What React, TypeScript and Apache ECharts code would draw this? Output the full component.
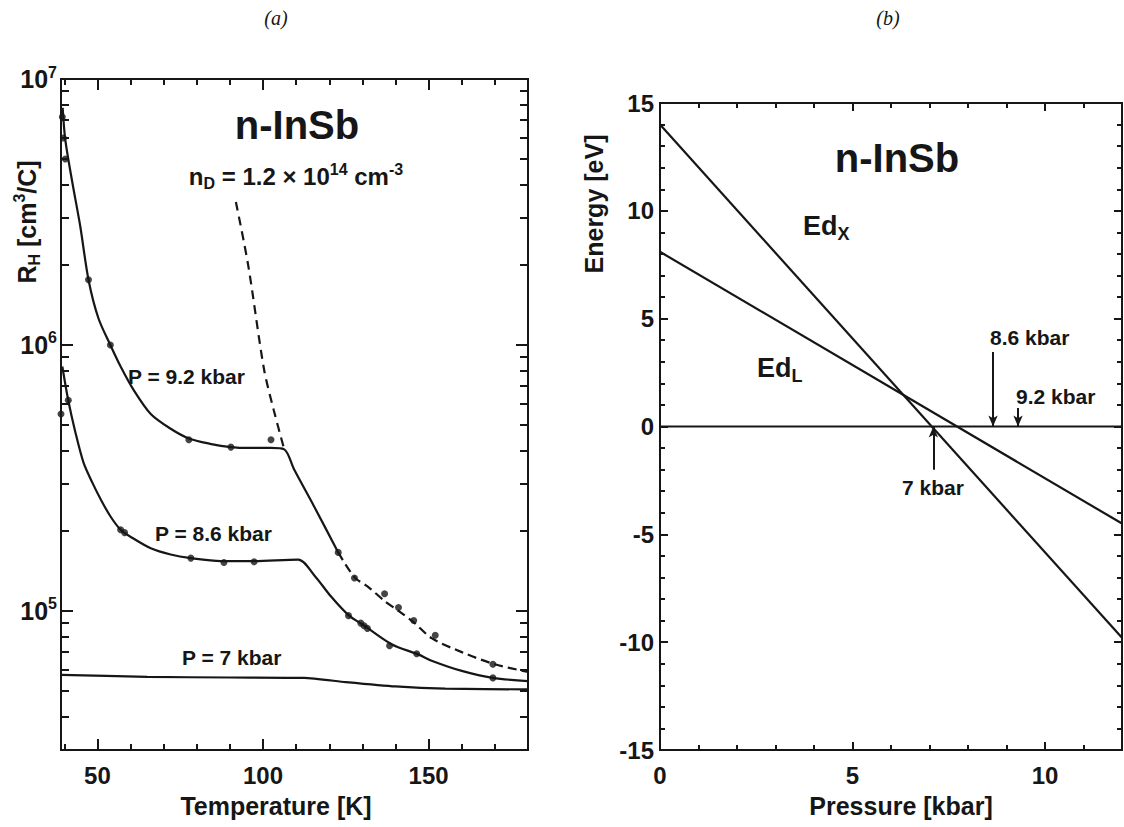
import React, { useEffect, useRef } from 'react';
import * as echarts from 'echarts';

// ---------- Panel (a): Hall coefficient vs temperature ----------
const temp92 = [39.5, 40.3, 42.4, 44.8, 47.3, 50.3, 53.9, 57, 61, 66.1, 72, 77.6, 84, 90.3, 96, 102.4, 106.4, 109.4, 115.5, 122.7];
const rh92 = [7.8e6, 5.9e6, 4.1e6, 2.8e6, 1.76e6, 1.26e6, 1.0e6, 8.3e5, 6.75e5, 5.5e5, 4.85e5, 4.45e5, 4.25e5, 4.13e5, 4.1e5, 4.1e5, 4.05e5, 3.4e5, 2.46e5, 1.66e5];
const temp92Tail = [122.7, 127.6, 131.8, 136.7, 140.9, 145.5, 150.9, 160, 170, 180];
const rh92Tail = [1.66e5, 1.34e5, 1.23e5, 1.09e5, 1.0e5, 9.06e4, 7.9e4, 7.0e4, 6.3e4, 5.9e4];
const tempDash = [91.8, 95.5, 100.3, 103.3, 106.4];
const rhDash = [3.45e6, 2.0e6, 8.1e5, 5.65e5, 4.05e5];
const temp86 = [39.4, 41.2, 43.3, 45.8, 48.5, 50.9, 53.9, 57, 60.6, 66.1, 72.1, 78.2, 87.3, 96.4, 110.6, 115.5, 120.6, 125.8, 130.6, 138.8, 147, 150.9, 160, 169.4, 180];
const rh86 = [8.3e5, 6.18e5, 4.72e5, 3.61e5, 3.03e5, 2.64e5, 2.27e5, 2.02e5, 1.88e5, 1.72e5, 1.63e5, 1.58e5, 1.54e5, 1.54e5, 1.56e5, 1.36e5, 1.13e5, 9.65e4, 8.8e4, 7.5e4, 6.85e4, 6.5e4, 5.95e4, 5.6e4, 5.45e4];
const temp7 = [39, 65, 90, 112.4, 125, 140, 155, 180];
const rh7 = [5.75e4, 5.65e4, 5.62e4, 5.6e4, 5.4e4, 5.2e4, 5.1e4, 5.07e4];
const mark92T = [39.4, 39.7, 40.3, 47.3, 53.9, 77.6, 90.3, 102.4, 122.7, 127.6, 136.7, 140.9, 145.5, 152, 169.4];
const mark92R = [7.2e6, 6.0e6, 5.0e6, 1.76e6, 1.0e6, 4.4e5, 4.13e5, 4.4e5, 1.66e5, 1.33e5, 1.16e5, 1.03e5, 9.2e4, 8.1e4, 6.3e4];
const mark86T = [39, 41.2, 57, 58.2, 78.2, 88.2, 97.3, 125.8, 129.5, 130.5, 131.5, 138.2, 146.4, 169.4];
const mark86R = [5.5e5, 6.2e5, 2.02e5, 1.97e5, 1.58e5, 1.52e5, 1.53e5, 9.6e4, 9.0e4, 8.8e4, 8.6e4, 7.4e4, 6.9e4, 5.6e4];

const tempMajor = [50, 100, 150];
const tempMinor = [40, 60, 70, 80, 90, 110, 120, 130, 140, 160, 170];
const rhMajor = [1e5, 1e6, 1e7];
const rhMinor = [4e4, 5e4, 6e4, 7e4, 8e4, 9e4, 2e5, 3e5, 4e5, 5e5, 6e5, 7e5, 8e5, 9e5, 2e6, 3e6, 4e6, 5e6, 6e6, 7e6, 8e6, 9e6];

// ---------- Panel (b): deformation potential energies vs pressure ----------
const pressure = [0, 12];
const edX = [14.0, -9.8];
const edL = [8.1, -4.5];
const zeroLine = [0, 0];
const arrowP = [8.65, 9.3, 7.1];
const arrowFrom = [3.45, 0.86, -2.0];
const pMajor = [0, 5, 10];
const pMinor = [1, 2, 3, 4, 6, 7, 8, 9, 11];
const eMajor = [-15, -10, -5, 0, 5, 10, 15];
const eMinor = [-14, -13, -12, -11, -9, -8, -7, -6, -4, -3, -2, -1, 1, 2, 3, 4, 6, 7, 8, 9, 11, 12, 13, 14];

const FONT = '"Liberation Sans", Arial, Helvetica, sans-serif';
const SERIF = '"Liberation Serif", "Times New Roman", serif';
const INK = '#161616';

const zip = (a: number[], b: number[]) => a.map((v, i) => [v, b[i]]);

function mkAxis(o: {
  grid: number; position: string; type?: string; min: number; max: number;
  ticks: number[]; len: number; labels?: number[]; formatter?: any; rich?: any; labelMargin?: number;
}) {
  const ax: any = {
    type: o.type || 'value',
    gridIndex: o.grid,
    position: o.position,
    min: o.min,
    max: o.max,
    axisLine: { show: true, onZero: false, lineStyle: { color: INK, width: 2 } },
    axisTick: { show: true, inside: true, length: o.len, customValues: o.ticks, lineStyle: { color: INK, width: 2 } },
    minorTick: { show: false },
    splitLine: { show: false },
    axisLabel: { show: false },
  };
  if (o.type === 'log') ax.logBase = 10;
  if (o.labels) {
    ax.axisLabel = {
      show: true,
      customValues: o.labels,
      color: INK,
      fontFamily: FONT,
      fontWeight: 'bold',
      fontSize: 24,
      margin: o.labelMargin ?? 8,
      formatter: o.formatter,
      rich: o.rich,
    };
  }
  return ax;
}

const logFormatter = (v: number) => `{b|10}{s|${Math.round(Math.log10(v))}}`;
const logRich = {
  b: { fontFamily: FONT, fontWeight: 'bold', fontSize: 25, color: INK, lineHeight: 30 },
  s: { fontFamily: FONT, fontWeight: 'bold', fontSize: 16, color: INK, verticalAlign: 'top', lineHeight: 16 },
};

function txt(x: number, y: number, text: string, size: number, extra: any = {}) {
  const { align, rich, family, weight, fontStyle, ...rest } = extra;
  return {
    type: 'text', x, y, silent: true,
    ...rest,
    style: {
      text,
      fill: INK,
      fontFamily: family || FONT,
      fontWeight: weight || 'bold',
      fontStyle: fontStyle || 'normal',
      fontSize: size,
      align: align || 'center',
      textAlign: align || 'center',
      verticalAlign: 'middle',
      textVerticalAlign: 'middle',
      rich,
    },
  };
}

const subRich = (size: number) => ({
  b: { fontFamily: FONT, fontWeight: 'bold', fontSize: size, fill: INK, lineHeight: size + 6 },
  sub: { fontFamily: FONT, fontWeight: 'bold', fontSize: Math.round(size * 0.65), fill: INK, verticalAlign: 'bottom', lineHeight: Math.round(size * 0.65) },
  sup: { fontFamily: FONT, fontWeight: 'bold', fontSize: Math.round(size * 0.65), fill: INK, verticalAlign: 'top', lineHeight: Math.round(size * 0.65) },
});

export default function App() {
  const ref = useRef<HTMLDivElement>(null);
  useEffect(() => {
    if (!ref.current) return;
    const chart = echarts.init(ref.current, undefined, { renderer: 'svg' });
    const lineStyle = { color: INK, width: 2.2 };
    const option: any = {
      animation: false,
      backgroundColor: '#ffffff',
      grid: [
        { left: 61, top: 79, width: 467, height: 671 },
        { left: 660, top: 103, width: 462, height: 647 },
      ],
      xAxis: [
        mkAxis({ grid: 0, position: 'bottom', min: 39, max: 180, ticks: tempMajor, len: 11, labels: tempMajor, labelMargin: 13 }),
        mkAxis({ grid: 0, position: 'bottom', min: 39, max: 180, ticks: tempMinor, len: 6 }),
        mkAxis({ grid: 0, position: 'top', min: 39, max: 180, ticks: tempMajor, len: 11 }),
        mkAxis({ grid: 0, position: 'top', min: 39, max: 180, ticks: tempMinor, len: 6 }),
        mkAxis({ grid: 1, position: 'bottom', min: 0, max: 12, ticks: pMajor, len: 8, labels: pMajor, labelMargin: 13 }),
        mkAxis({ grid: 1, position: 'bottom', min: 0, max: 12, ticks: pMinor, len: 5 }),
        mkAxis({ grid: 1, position: 'top', min: 0, max: 12, ticks: pMajor, len: 8 }),
        mkAxis({ grid: 1, position: 'top', min: 0, max: 12, ticks: pMinor, len: 5 }),
      ],
      yAxis: [
        mkAxis({ grid: 0, position: 'left', type: 'log', min: 3e4, max: 1e7, ticks: rhMajor, len: 12, labels: rhMajor, formatter: logFormatter, rich: logRich, labelMargin: 4 }),
        mkAxis({ grid: 0, position: 'left', type: 'log', min: 3e4, max: 1e7, ticks: rhMinor, len: 8 }),
        mkAxis({ grid: 0, position: 'right', type: 'log', min: 3e4, max: 1e7, ticks: rhMajor, len: 12 }),
        mkAxis({ grid: 0, position: 'right', type: 'log', min: 3e4, max: 1e7, ticks: rhMinor, len: 8 }),
        mkAxis({ grid: 1, position: 'left', min: -15, max: 15, ticks: eMajor, len: 8, labels: eMajor, labelMargin: 6 }),
        mkAxis({ grid: 1, position: 'left', min: -15, max: 15, ticks: eMinor, len: 5 }),
        mkAxis({ grid: 1, position: 'right', min: -15, max: 15, ticks: eMajor, len: 8 }),
        mkAxis({ grid: 1, position: 'right', min: -15, max: 15, ticks: eMinor, len: 5 }),
      ],
      series: [
        { type: 'line', name: 'P = 9.2 kbar', xAxisIndex: 0, yAxisIndex: 0, data: zip(temp92, rh92), smooth: 0.3, showSymbol: false, lineStyle },
        { type: 'line', name: 'P = 9.2 kbar tail', xAxisIndex: 0, yAxisIndex: 0, data: zip(temp92Tail, rh92Tail), smooth: 0.3, showSymbol: false, lineStyle: { ...lineStyle, type: [9, 5] } },
        { type: 'line', name: 'dashed', xAxisIndex: 0, yAxisIndex: 0, data: zip(tempDash, rhDash), smooth: 0.3, showSymbol: false, lineStyle: { ...lineStyle, type: [9, 6] } },
        { type: 'line', name: 'P = 8.6 kbar', xAxisIndex: 0, yAxisIndex: 0, data: zip(temp86, rh86), smooth: 0.3, showSymbol: false, lineStyle },
        { type: 'line', name: 'P = 7 kbar', xAxisIndex: 0, yAxisIndex: 0, data: zip(temp7, rh7), smooth: 0.2, showSymbol: false, lineStyle },
        { type: 'scatter', name: 'data 9.2', xAxisIndex: 0, yAxisIndex: 0, data: zip(mark92T, mark92R), symbolSize: 7, itemStyle: { color: INK } },
        { type: 'scatter', name: 'data 8.6', xAxisIndex: 0, yAxisIndex: 0, data: zip(mark86T, mark86R), symbolSize: 7, itemStyle: { color: INK } },
        { type: 'line', name: 'EdX', xAxisIndex: 4, yAxisIndex: 4, data: zip(pressure, edX), showSymbol: false, lineStyle },
        { type: 'line', name: 'EdL', xAxisIndex: 4, yAxisIndex: 4, data: zip(pressure, edL), showSymbol: false, lineStyle },
        {
          type: 'line', name: 'zero', xAxisIndex: 4, yAxisIndex: 4, data: zip(pressure, zeroLine), showSymbol: false, lineStyle,
          markLine: {
            silent: true,
            symbol: ['none', 'arrow'],
            symbolSize: [7, 11],
            label: { show: false },
            lineStyle: { color: INK, width: 2, type: 'solid' },
            data: arrowP.map((p, i) => [{ coord: [p, arrowFrom[i]] }, { coord: [p, 0] }]),
          },
        },
      ],
      graphic: [
        txt(276, 18, '(a)', 20, { family: SERIF, weight: 'normal', fontStyle: 'italic' }),
        txt(888, 18, '(b)', 20, { family: SERIF, weight: 'normal', fontStyle: 'italic' }),
        txt(297, 125, 'n-InSb', 40),
        txt(296, 176, '{b|n}{sub|D}{b| = 1.2 × 10}{sup|14}{b| cm}{sup|-3}', 24, { rich: subRich(24) }),
        txt(128, 376, 'P = 9.2 kbar', 21, { align: 'left' }),
        txt(155, 533, 'P = 8.6 kbar', 21, { align: 'left' }),
        txt(182, 657, 'P = 7 kbar', 21, { align: 'left' }),
        txt(27, 222, '{b|R}{sub|H}{b| [cm}{sup|3}{b|/C]}', 25, { rich: subRich(25), rotation: Math.PI / 2 }),
        txt(276, 806, 'Temperature [K]', 25),
        txt(897, 158, 'n-InSb', 40),
        txt(803, 226, '{b|Ed}{sub|X}', 27, { rich: subRich(27), align: 'left' }),
        txt(757, 368, '{b|Ed}{sub|L}', 27, { rich: subRich(27), align: 'left' }),
        txt(990, 337, '8.6 kbar', 21, { align: 'left' }),
        txt(1016, 396, '9.2 kbar', 21, { align: 'left' }),
        txt(933, 487, '7 kbar', 21),
        txt(594, 204, 'Energy [eV]', 25, { rotation: Math.PI / 2 }),
        txt(901, 806, 'Pressure [kbar]', 25),
      ],
    };
    chart.setOption(option);
    return () => chart.dispose();
  }, []);
  return <div ref={ref} style={{ position: 'absolute', left: 0, top: 0, width: 1124, height: 827 }} />;
}
